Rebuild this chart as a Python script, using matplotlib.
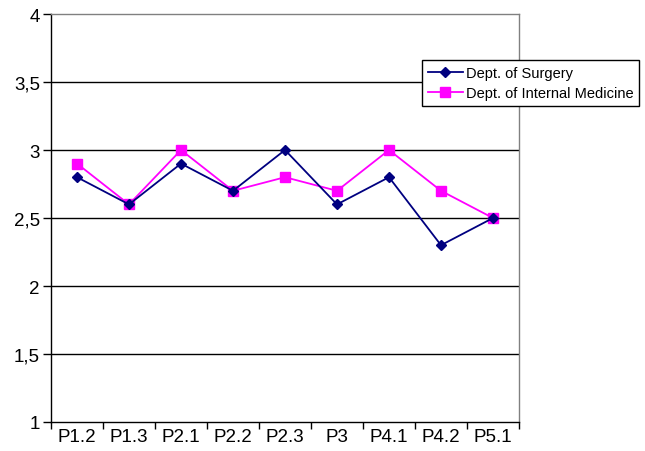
import numpy as np
import matplotlib.pyplot as plt
from matplotlib.ticker import FixedLocator, NullFormatter

plt.rcParams['font.family'] = ['Liberation Sans', 'DejaVu Sans']

# Mean scores per item for the two departments
items = ["P1.2", "P1.3", "P2.1", "P2.2", "P2.3", "P3", "P4.1", "P4.2", "P5.1"]
surgery = [2.8, 2.6, 2.9, 2.7, 3.0, 2.6, 2.8, 2.3, 2.5]
internal_med = [2.9, 2.6, 3.0, 2.7, 2.8, 2.7, 3.0, 2.7, 2.5]
y_ticks = [1, 1.5, 2, 2.5, 3, 3.5, 4]
y_labels = ["1", "1,5", "2", "2,5", "3", "3,5", "4"]

fig = plt.figure(figsize=(6.45, 4.52), dpi=100)
ax = fig.add_axes([51 / 645, 29 / 452, 468 / 645, 408 / 452])

x = np.arange(len(items))

# horizontal grid lines (the top one is drawn by the gray spine)
for y in y_ticks[1:-1]:
    ax.axhline(y, color="black", lw=1.0, zorder=1)

ax.plot(x, surgery, color="#000080", lw=1.3, marker="D", ms=5.5,
        label="Dept. of Surgery", zorder=3)
ax.plot(x, internal_med, color="#FF00FF", lw=1.3, marker="s", ms=6.5,
        label="Dept. of Internal Medicine", zorder=2)

ax.set_xlim(-0.5, len(items) - 0.5)
ax.set_ylim(1, 4)

# category ticks sit between the items, labels centred on them
ax.xaxis.set_major_locator(FixedLocator(np.arange(-0.5, len(items), 1.0)))
ax.xaxis.set_major_formatter(NullFormatter())
ax.xaxis.set_minor_locator(FixedLocator(x))
ax.set_xticklabels(items, minor=True)
ax.tick_params(axis="x", which="major", length=5, width=1, color="black")
ax.tick_params(axis="x", which="minor", length=0, labelsize=13.5, pad=4)

ax.set_yticks(y_ticks)
ax.set_yticklabels(y_labels)
ax.tick_params(axis="y", length=6, width=1, labelsize=13.5, pad=2, color="black")

ax.spines["left"].set_color("black")
ax.spines["bottom"].set_color("black")
ax.spines["top"].set_color("#808080")
ax.spines["right"].set_color("#808080")
for s in ax.spines.values():
    s.set_linewidth(1.0)

leg = ax.legend(loc="upper left", bbox_to_anchor=(422 / 645, 1 - 61 / 452),
                bbox_transform=fig.transFigure, fontsize=10.5, frameon=True,
                fancybox=False, framealpha=1, edgecolor="black",
                handlelength=2.4, handletextpad=0.2, borderpad=0.4,
                labelspacing=0.45, borderaxespad=0)
leg.get_frame().set_linewidth(1.0)

fig.savefig("out.png", dpi=100)
